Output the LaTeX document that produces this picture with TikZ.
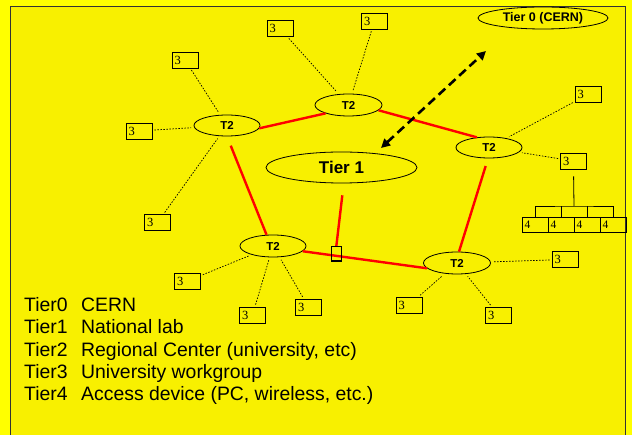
\documentclass[tikz,border=0pt]{standalone}
\usepackage{fontspec}
\setmainfont{Liberation Serif}
\setsansfont{Liberation Sans}
\usetikzlibrary{shapes.geometric,arrows.meta}
\definecolor{outerY}{RGB}{255,255,0}
\definecolor{innerY}{RGB}{248,240,0}
\begin{document}
\begin{tikzpicture}[x=1pt,y=-1pt,
  tnode/.style={draw, ellipse, line width=0.8pt, inner sep=0pt, minimum width=66pt, minimum height=21pt, font=\sffamily\bfseries\fontsize{11.5}{12}\selectfont},
  three/.style={draw, line width=0.8pt, minimum height=16pt, text width=21pt, inner xsep=2.5pt, inner ysep=1pt, align=left, font=\rmfamily\fontsize{12.5}{12.5}\selectfont},
  four/.style={three, minimum height=15pt, font=\rmfamily\fontsize{11.5}{11.5}\selectfont},
  redline/.style={red, line width=2.4pt},
  dotl/.style={line width=0.7pt, dash pattern=on 1.5pt off 1.5pt, shorten <=2pt, shorten >=3pt},
]
\useasboundingbox (0,0) rectangle (632,435);
\fill[outerY] (0,0) rectangle (632,435);
\fill[innerY] (10,6) rectangle (625,435);
\draw[black!80, line width=0.8pt] (10,435) -- (10,6) -- (625,6) -- (625,435);

% tier nodes
\node[tnode, minimum width=130pt, minimum height=22pt, font=\sffamily\bfseries\fontsize{12.5}{13}\selectfont] (t0) at (543,18) {Tier 0 (CERN)};
\node[tnode, minimum width=151pt, minimum height=31pt, font=\sffamily\bfseries\fontsize{17}{18}\selectfont] (t1) at (341.5,167.5) {Tier 1};
\node[tnode] (ta) at (227,125.5) {T2};
\node[tnode, minimum width=67pt, minimum height=22pt] (tb) at (348.5,105) {T2};
\node[tnode] (tc) at (489,147.5) {T2};
\node[tnode, minimum height=22pt] (td) at (273,246) {T2};
\node[tnode, minimum width=67pt, minimum height=22pt] (te) at (457,263) {T2};

% tier 3 boxes
\node[three] (b1) at (185,60) {3};
\node[three] (b2) at (280,28.5) {3};
\node[three] (b3) at (139,131) {3};
\node[three] (b4) at (157.5,222.5) {3};
\node[three] (b5) at (374.5,21) {3};
\node[three] (b6) at (588,94.5) {3};
\node[three] (b7) at (573.5,161) {3};
\node[three] (b8) at (187.5,281) {3};
\node[three] (b9) at (252.5,315) {3};
\node[three] (b10) at (308.5,307) {3};
\node[three] (b11) at (565,259.5) {3};
\node[three] (b12) at (409,305) {3};
\node[three] (b13) at (498.5,315) {3};

% tier 4 boxes
\node[four] (f1) at (535,224.5) {4};
\node[four] (f2) at (561,224.5) {4};
\node[four] (f3) at (587,224.5) {4};
\node[four] (f4) at (613,224.5) {4};

% red links
\draw[redline] (ta.-5) -- (tb.200);
\draw[redline] (tb.-10) -- (tc.140);
\draw[redline, shorten <=10pt] (ta.south) -- (td.120);
\draw[redline, shorten <=8pt] (tc.265) -- (te.80);
\draw[redline] (td.-10) -- (te.190);
\node[draw, line width=0.8pt, minimum width=10pt, minimum height=14pt, inner sep=0pt] (sb) at (336.3,253.7) {};
\draw[redline, shorten <=12pt] (t1.278) -- (sb.north);
\draw[line width=0.8pt] (sb.north west) rectangle (sb.south east);

% dashed double arrow
\coordinate (a1) at (381,148);
\coordinate (a2) at (486,51);
\draw[line width=2.6pt, dash pattern=on 9pt off 5pt, {Triangle[length=9pt,width=9pt]}-{Triangle[length=9pt,width=9pt]}] (a1) -- (a2);

% dotted links
\draw[dotl] (b1) -- (ta);
\draw[dotl] (b3) -- (ta);
\draw[dotl] (b4) -- (ta);
\draw[dotl] (b2) -- (tb);
\draw[dotl] (b5) -- (tb);
\draw[dotl] (b6) -- (tc);
\draw[dotl] (b7) -- (tc);
\draw[dotl] (b8) -- (td);
\draw[dotl] (b9) -- (td);
\draw[dotl] (b10) -- (td);
\draw[dotl] (b11) -- (te);
\draw[dotl] (b12) -- (te);
\draw[dotl] (b13) -- (te);

% tree to tier 4
\coordinate (bar) at (574,206);
\draw[line width=0.8pt, shorten <=7pt] (b7.south) -- (bar);
\draw[line width=0.8pt] (f1.north) |- (bar) -| (f4.north);
\draw[line width=0.8pt] (f2.north) -- (f2.north |- bar);
\draw[line width=0.8pt] (f3.north) -- (f3.north |- bar);

% legend
\node[anchor=base west, inner sep=0pt, font=\sffamily\fontsize{19.4}{22.3}\selectfont] (legend) at (24,311.7)
  {\begin{tabular}[t]{@{}p{57pt}@{}l@{}}
   Tier0 & CERN\\
   Tier1 & National lab\\
   Tier2 & Regional Center (university, etc)\\
   Tier3 & University workgroup\\
   Tier4 & Access device (PC, wireless, etc.)
  \end{tabular}};
\end{tikzpicture}
\end{document}
